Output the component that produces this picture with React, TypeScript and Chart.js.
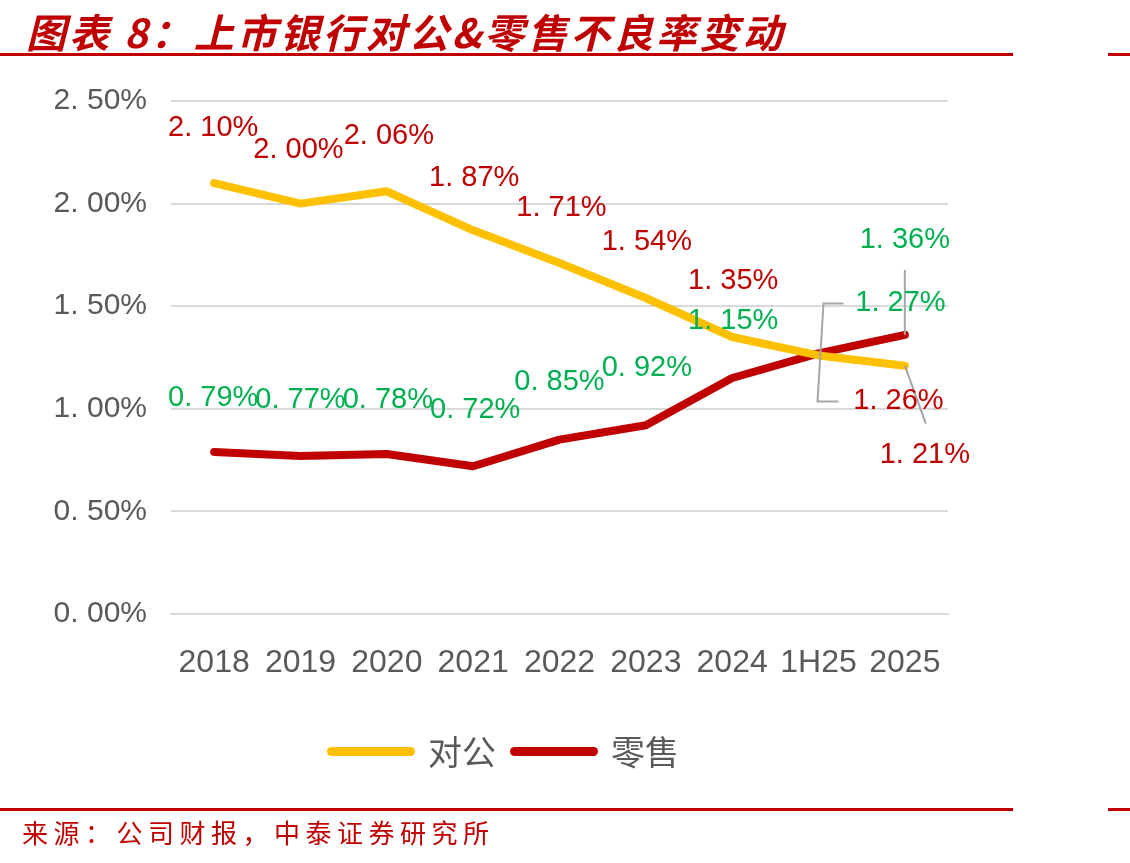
import React, { useEffect, useRef } from "react";
import { Chart, registerables } from "chart.js";

Chart.register(...registerables);

// Categories and NPL ratios (%)
const categories = ["2018", "2019", "2020", "2021", "2022", "2023", "2024", "1H25", "2025"];
const corporateNpl = [2.1, 2.0, 2.06, 1.87, 1.71, 1.54, 1.35, 1.26, 1.21];
const retailNpl = [0.79, 0.77, 0.78, 0.72, 0.85, 0.92, 1.15, 1.27, 1.36];
const seriesNames = ["对公", "零售"];
const yTicks = [0, 0.5, 1.0, 1.5, 2.0, 2.5];

const YELLOW = "#FFC000";
const DARK_RED = "#C00000";
const GREEN = "#00B050";
const GREY_TEXT = "#595959";
const LEADER = "#A6A6A6";

// Label offsets from each point (pixels), per series
const corporateLabelOffsets: [number, number][] = [
  [-1, -55], [-2, -54], [2, -55], [1, -52], [2, -55], [1, -56], [1, -56], [80, 46], [20, 89],
];
const retailLabelOffsets: [number, number][] = [
  [-1, -54], [0, -56], [1, -54], [2, -56], [0, -58], [1, -57], [1, -57], [82, -50], [0, -95],
];

const fmt = (v: number) => v.toFixed(2).replace(".", ". ") + "%";

const labelPlugin = {
  id: "pointLabels",
  afterDatasetsDraw(chart: any) {
    const ctx = chart.ctx;
    const meta0 = chart.getDatasetMeta(0);
    const meta1 = chart.getDatasetMeta(1);
    ctx.save();
    // leader lines for the crowded right-hand labels
    ctx.strokeStyle = LEADER;
    ctx.lineWidth = 2;
    const r8 = meta1.data[8];
    ctx.beginPath();
    ctx.moveTo(r8.x, r8.y);
    ctx.lineTo(r8.x, r8.y - 65);
    ctx.stroke();
    const c8 = meta0.data[8];
    ctx.beginPath();
    ctx.moveTo(c8.x, c8.y);
    ctx.lineTo(c8.x + 21, c8.y + 58);
    ctx.stroke();
    const r7 = meta1.data[7];
    const c7 = meta0.data[7];
    ctx.beginPath();
    ctx.moveTo(r7.x + 25, r7.y - 50);
    ctx.lineTo(r7.x + 5, r7.y - 50);
    ctx.lineTo(c7.x - 1, c7.y + 46);
    ctx.lineTo(c7.x + 20, c7.y + 46);
    ctx.stroke();

    ctx.font = "29px 'Liberation Sans', Arial, sans-serif";
    ctx.textAlign = "center";
    ctx.textBaseline = "middle";
    meta0.data.forEach((pt: any, i: number) => {
      const [dx, dy] = corporateLabelOffsets[i];
      ctx.fillStyle = DARK_RED;
      ctx.fillText(fmt(corporateNpl[i]), pt.x + dx, pt.y + dy);
    });
    meta1.data.forEach((pt: any, i: number) => {
      const [dx, dy] = retailLabelOffsets[i];
      ctx.fillStyle = GREEN;
      ctx.fillText(fmt(retailNpl[i]), pt.x + dx, pt.y + dy);
    });
    ctx.restore();
  },
};

function NplChart() {
  const canvasRef = useRef<HTMLCanvasElement | null>(null);
  useEffect(() => {
    const canvas = canvasRef.current;
    if (!canvas) return;
    const chart = new Chart(canvas, {
      type: "line",
      data: {
        labels: categories,
        datasets: [
          {
            label: seriesNames[0],
            data: corporateNpl,
            borderColor: YELLOW,
            backgroundColor: YELLOW,
            borderWidth: 8,
            pointRadius: 0,
            tension: 0,
            borderCapStyle: "round",
            borderJoinStyle: "round",
          },
          {
            label: seriesNames[1],
            data: retailNpl,
            borderColor: DARK_RED,
            backgroundColor: DARK_RED,
            borderWidth: 8,
            pointRadius: 0,
            tension: 0,
            borderCapStyle: "round",
            borderJoinStyle: "round",
          },
        ],
      },
      options: {
        animation: false,
        responsive: false,
        maintainAspectRatio: false,
        devicePixelRatio: 1,
        layout: { padding: { top: 101, right: 182, left: 0, bottom: 0 } },
        plugins: {
          legend: { display: false },
          tooltip: { enabled: false },
          title: { display: false },
        },
        scales: {
          x: {
            offset: true,
            grid: { display: false, drawTicks: false },
            border: { display: true, color: "#D9D9D9", width: 2 },
            ticks: {
              color: GREY_TEXT,
              padding: 30,
              font: { family: "'Liberation Sans', Arial, sans-serif", size: 32 },
              maxRotation: 0,
              autoSkip: false,
            },
            afterFit: (s: any) => {
              s.height = 249;
            },
          },
          y: {
            min: 0,
            max: 2.5,
            afterBuildTicks: (s: any) => {
              s.ticks = yTicks.map((v) => ({ value: v }));
            },
            grid: { color: "#D9D9D9", lineWidth: 2, drawTicks: false },
            border: { display: false },
            ticks: {
              color: GREY_TEXT,
              padding: 24,
              font: { family: "'Liberation Sans', Arial, sans-serif", size: 30 },
              callback: (v: any) => fmt(Number(v)),
            },
            afterFit: (s: any) => {
              s.width = 171;
            },
          },
        },
      },
      plugins: [labelPlugin],
    });
    return () => chart.destroy();
  }, []);
  return (
    <canvas
      ref={canvasRef}
      width={1130}
      height={863}
      style={{ position: "absolute", left: 0, top: 0, width: 1130, height: 863 }}
    />
  );
}

const ruleStyle = (top: number, left: number, width: number): React.CSSProperties => ({
  position: "absolute",
  top,
  left,
  width,
  height: 3,
  background: DARK_RED,
});

export default function App() {
  const legendLine = (color: string): React.CSSProperties => ({
    display: "inline-block",
    width: 88,
    height: 9,
    borderRadius: 5,
    background: color,
    verticalAlign: "middle",
  });
  const legendText: React.CSSProperties = {
    fontFamily: "'Noto Sans CJK SC', sans-serif",
    fontSize: 34,
    color: GREY_TEXT,
    verticalAlign: "middle",
    margin: "0 14px 0 13px",
  };
  return (
    <div style={{ position: "absolute", left: 0, top: 0, width: 1130, height: 863, background: "#fff", overflow: "hidden" }}>
      <NplChart />
      <div
        style={{
          position: "absolute",
          left: 26,
          top: 2,
          fontFamily: "'Noto Sans CJK SC', sans-serif",
          fontWeight: 700,
          fontStyle: "italic",
          fontSize: 40,
          letterSpacing: 3,
          color: DARK_RED,
          whiteSpace: "nowrap",
        }}
      >
        图表 8：上市银行对公&amp;零售不良率变动
      </div>
      <div style={ruleStyle(53, 0, 1013)} />
      <div style={ruleStyle(53, 1108, 22)} />
      <div
        style={{
          position: "absolute",
          left: 327,
          top: 722,
          whiteSpace: "nowrap",
          lineHeight: "56px",
        }}
      >
        <span style={legendLine(YELLOW)} />
        <span style={legendText}>{seriesNames[0]}</span>
        <span style={legendLine(DARK_RED)} />
        <span style={legendText}>{seriesNames[1]}</span>
      </div>
      <div style={ruleStyle(808, 0, 1013)} />
      <div style={ruleStyle(808, 1108, 22)} />
      <div
        style={{
          position: "absolute",
          left: 22,
          top: 813,
          fontFamily: "'Noto Sans CJK SC', sans-serif",
          fontSize: 26,
          letterSpacing: 5.5,
          color: DARK_RED,
          whiteSpace: "nowrap",
        }}
      >
        来源：公司财报，中泰证券研究所
      </div>
    </div>
  );
}
